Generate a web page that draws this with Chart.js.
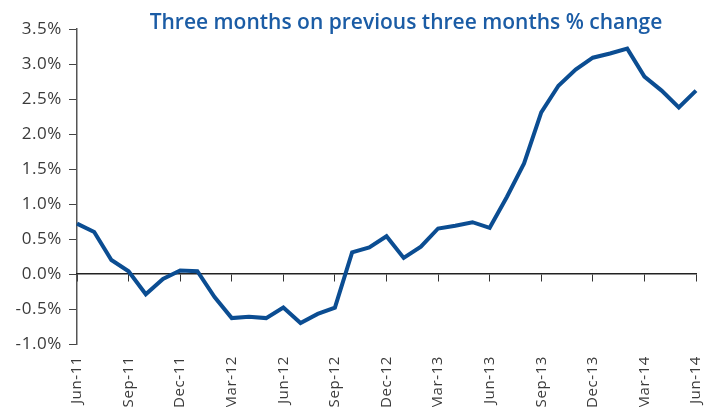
<!DOCTYPE html>
<html>
<head>
<meta charset="utf-8">
<script src="https://cdn.jsdelivr.net/npm/chart.js@4/dist/chart.umd.min.js"></script>
<style>
  html, body { margin: 0; padding: 0; background: #fff; }
  #wrap { width: 705px; height: 407px; position: relative; }
</style>
</head>
<body>
<div id="wrap"><canvas id="c" width="705" height="407"></canvas></div>
<script>
const titleText = 'Three months on previous three months % change';
const months = [
  'Jun-11','Jul-11','Aug-11','Sep-11','Oct-11','Nov-11','Dec-11','Jan-12','Feb-12',
  'Mar-12','Apr-12','May-12','Jun-12','Jul-12','Aug-12','Sep-12','Oct-12','Nov-12',
  'Dec-12','Jan-13','Feb-13','Mar-13','Apr-13','May-13','Jun-13','Jul-13','Aug-13',
  'Sep-13','Oct-13','Nov-13','Dec-13','Jan-14','Feb-14','Mar-14','Apr-14','May-14','Jun-14'
];
const changePct = [
  0.72, 0.60, 0.20, 0.04, -0.29, -0.07, 0.05, 0.04, -0.33,
  -0.63, -0.61, -0.63, -0.48, -0.70, -0.57, -0.48, 0.31, 0.38,
  0.54, 0.23, 0.39, 0.65, 0.69, 0.74, 0.66, 1.10, 1.58,
  2.31, 2.69, 2.92, 3.09, 3.15, 3.22, 2.82, 2.62, 2.38, 2.62
];
const yMin = -1.0, yMax = 3.5, yStep = 0.5;

const spacingPlugin = {
  id: 'spacing',
  beforeDraw(chart) { chart.ctx.letterSpacing = '0.6px'; }
};

const titlePlugin = {
  id: 'titleText',
  afterDraw(chart) {
    const ctx = chart.ctx;
    ctx.save();
    ctx.letterSpacing = '0px';
    ctx.font = '600 21px "Open Sans", sans-serif';
    ctx.fillStyle = '#1b5ca5';
    ctx.textAlign = 'center';
    ctx.textBaseline = 'alphabetic';
    ctx.fillText(titleText, 406, 29);
    ctx.restore();
  }
};

new Chart(document.getElementById('c'), {
  type: 'line',
  data: {
    labels: months,
    datasets: [{
      data: changePct,
      xAxisID: 'x',
      yAxisID: 'y',
      borderColor: '#0b4d92',
      borderWidth: 4,
      pointRadius: 0,
      tension: 0,
      fill: false
    }]
  },
  plugins: [spacingPlugin, titlePlugin],
  options: {
    responsive: false,
    animation: false,
    layout: { padding: { top: 29, right: 9, bottom: 0, left: 0 } },
    plugins: { legend: { display: false }, title: { display: false }, tooltip: { enabled: false } },
    scales: {
      y: {
        position: 'left',
        min: yMin, max: yMax,
        afterFit(scale) { scale.width = 77; },
        ticks: {
          stepSize: yStep,
          padding: 7,
          color: '#3a3a3a',
          font: { family: '"Open Sans", sans-serif', size: 17 },
          callback: v => v.toFixed(1) + '%'
        },
        grid: { drawOnChartArea: false, drawTicks: true, tickLength: 8, color: '#444' },
        border: { display: true, color: '#555', width: 1.5 }
      },
      x: {
        type: 'category',
        position: { y: 0 },
        offset: false,
        afterFit(scale) { scale.paddingLeft = 0; scale.paddingRight = 0; },
        ticks: { display: false, autoSkip: false },
        grid: {
          drawOnChartArea: false, drawTicks: true, tickLength: 7,
          color: ctx => (ctx.index % 3 === 0 ? '#333' : 'rgba(0,0,0,0)')
        },
        border: { display: true, color: '#222', width: 1.5 }
      },
      xb: {
        type: 'category',
        position: 'bottom',
        offset: false,
        afterFit(scale) { scale.height = 63; scale.paddingLeft = 0; scale.paddingRight = 0; },
        ticks: {
          autoSkip: false,
          minRotation: 90, maxRotation: 90,
          padding: 12,
          color: '#3a3a3a',
          font: { family: '"Open Sans", sans-serif', size: 15 },
          callback: (v, i) => (i % 3 === 0 ? months[i] : '')
        },
        grid: { display: false, drawTicks: false },
        border: { display: false }
      }
    }
  }
});
</script>
</body>
</html>
